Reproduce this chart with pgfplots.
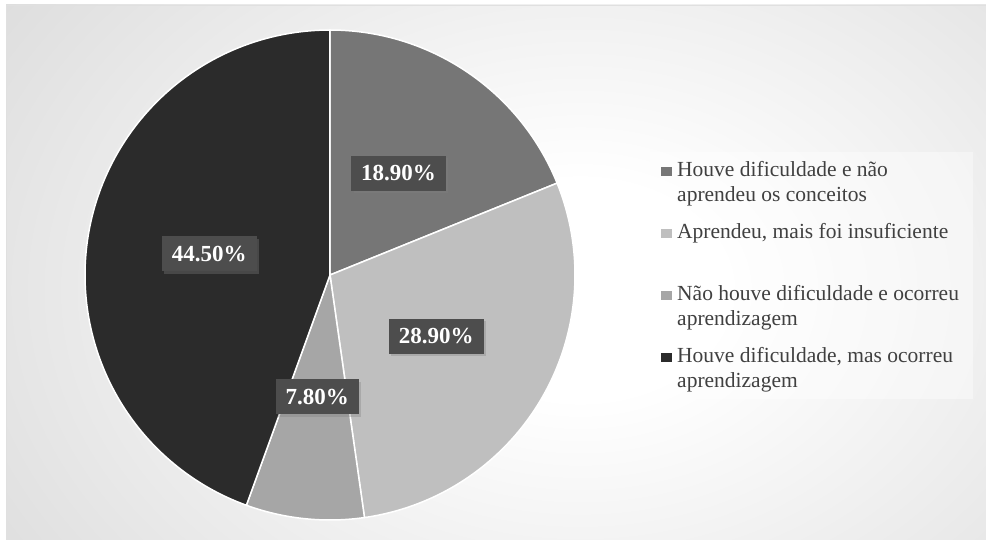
\documentclass[border=0pt]{standalone}
\usepackage{pgfplots}
\usepackage{pgfplotstable}
\pgfplotsset{compat=1.18}
\usepgfplotslibrary{polar}
\usetikzlibrary{shadows}
\usepackage{fontspec}
\setmainfont{Liberation Serif}
\definecolor{cA}{HTML}{767676}
\definecolor{cB}{HTML}{BFBFBF}
\definecolor{cC}{HTML}{A6A6A6}
\definecolor{cD}{HTML}{2B2B2B}
\definecolor{legtxt}{HTML}{404040}
\definecolor{lblfill}{HTML}{4D4D4D}
\definecolor{bgedge}{HTML}{CACACA}
\pgfdeclareradialshading{bgshade}{\pgfpoint{0bp}{0bp}}{color(0bp)=(white); color(6bp)=(white); color(42bp)=(bgedge); color(80bp)=(bgedge)}
\tikzset{lbl/.style={fill=lblfill, text=white, inner xsep=10pt, minimum height=35pt,
    font=\bfseries\fontsize{23}{27}\selectfont,
    drop shadow={shadow xshift=2.5pt, shadow yshift=-2.5pt, opacity=0.35}}}
\pgfplotstableread{
value
18.9
28.9
7.8
44.5
}\piedata
\begin{document}
\begin{tikzpicture}[x=1pt,y=1pt]
\path[use as bounding box] (0,0) rectangle (986,540);
\fill[white] (0,0) rectangle (986,540);
\begin{scope}
\clip (6,0) rectangle (986,535);
\shade[shading=bgshade] (-30,-200) rectangle (1190,700);
\end{scope}
\draw[white!88!black, line width=1pt] (6.5,0) -- (6.5,534.5) -- (986,534.5);
% legend background
\fill[white, opacity=0.4] (650,141) rectangle (973,388);
\pgfplotstablegetelem{0}{value}\of\piedata \edef\va{\pgfplotsretval}
\pgfplotstablegetelem{1}{value}\of\piedata \edef\vb{\pgfplotsretval}
\pgfplotstablegetelem{2}{value}\of\piedata \edef\vc{\pgfplotsretval}
\pgfplotstablegetelem{3}{value}\of\piedata \edef\vd{\pgfplotsretval}
\pgfmathsetmacro\tot{\va+\vb+\vc+\vd}
\pgfmathsetmacro\aA{90-360*\va/\tot}
\pgfmathsetmacro\aB{\aA-360*\vb/\tot}
\pgfmathsetmacro\aC{\aB-360*\vc/\tot}
\pgfmathsetmacro\aD{\aC-360*\vd/\tot}
\pgfmathsetmacro\mA{(90+\aA)/2}
\pgfmathsetmacro\mB{(\aA+\aB)/2}
\pgfmathsetmacro\mC{(\aB+\aC)/2}
\pgfmathsetmacro\mD{(\aC+\aD)/2}
\begin{polaraxis}[
  at={(330pt,265pt)}, anchor=center,
  scale only axis, width=490pt, height=490pt,
  ymin=0, ymax=1, hide axis, clip=false,
]
\addplot[fill=cA, draw=white, line width=1.5pt, domain=\aA:90, samples=80] {1} -- (axis cs:0,0) -- cycle;
\addplot[fill=cB, draw=white, line width=1.5pt, domain=\aB:\aA, samples=100] {1} -- (axis cs:0,0) -- cycle;
\addplot[fill=cC, draw=white, line width=1.5pt, domain=\aC:\aB, samples=40] {1} -- (axis cs:0,0) -- cycle;
\addplot[fill=cD, draw=white, line width=1.5pt, domain=\aD:\aC, samples=140] {1} -- (axis cs:0,0) -- cycle;
\node[lbl] at (axis cs:\mA,0.5) {\pgfmathprintnumber[fixed,fixed zerofill,precision=2,assume math mode=true]{\va}\%};
\node[lbl] at (axis cs:\mB,0.5) {\pgfmathprintnumber[fixed,fixed zerofill,precision=2,assume math mode=true]{\vb}\%};
\node[lbl] at (axis cs:\mC,0.5) {\pgfmathprintnumber[fixed,fixed zerofill,precision=2,assume math mode=true]{\vc}\%};
\node[lbl] at (axis cs:\mD,0.5) {\pgfmathprintnumber[fixed,fixed zerofill,precision=2,assume math mode=true]{\vd}\%};
\end{polaraxis}
% legend
\begin{scope}[every node/.style={anchor=base west, inner sep=0pt, text=legtxt, font=\fontsize{21.5}{25}\selectfont}]
\fill[cA] (661,364) rectangle (672,373);
\node at (677,363) {Houve dificuldade e não};
\node at (677,338) {aprendeu os conceitos};
\fill[cB] (661,302) rectangle (672,311);
\node at (677,301) {Aprendeu, mais foi insuficiente};
\fill[cC] (661,240) rectangle (672,249);
\node at (677,239) {Não houve dificuldade e ocorreu};
\node at (677,214) {aprendizagem};
\fill[cD] (661,178) rectangle (672,187);
\node at (677,177) {Houve dificuldade, mas ocorreu};
\node at (677,152) {aprendizagem};
\end{scope}
\end{tikzpicture}
\end{document}
